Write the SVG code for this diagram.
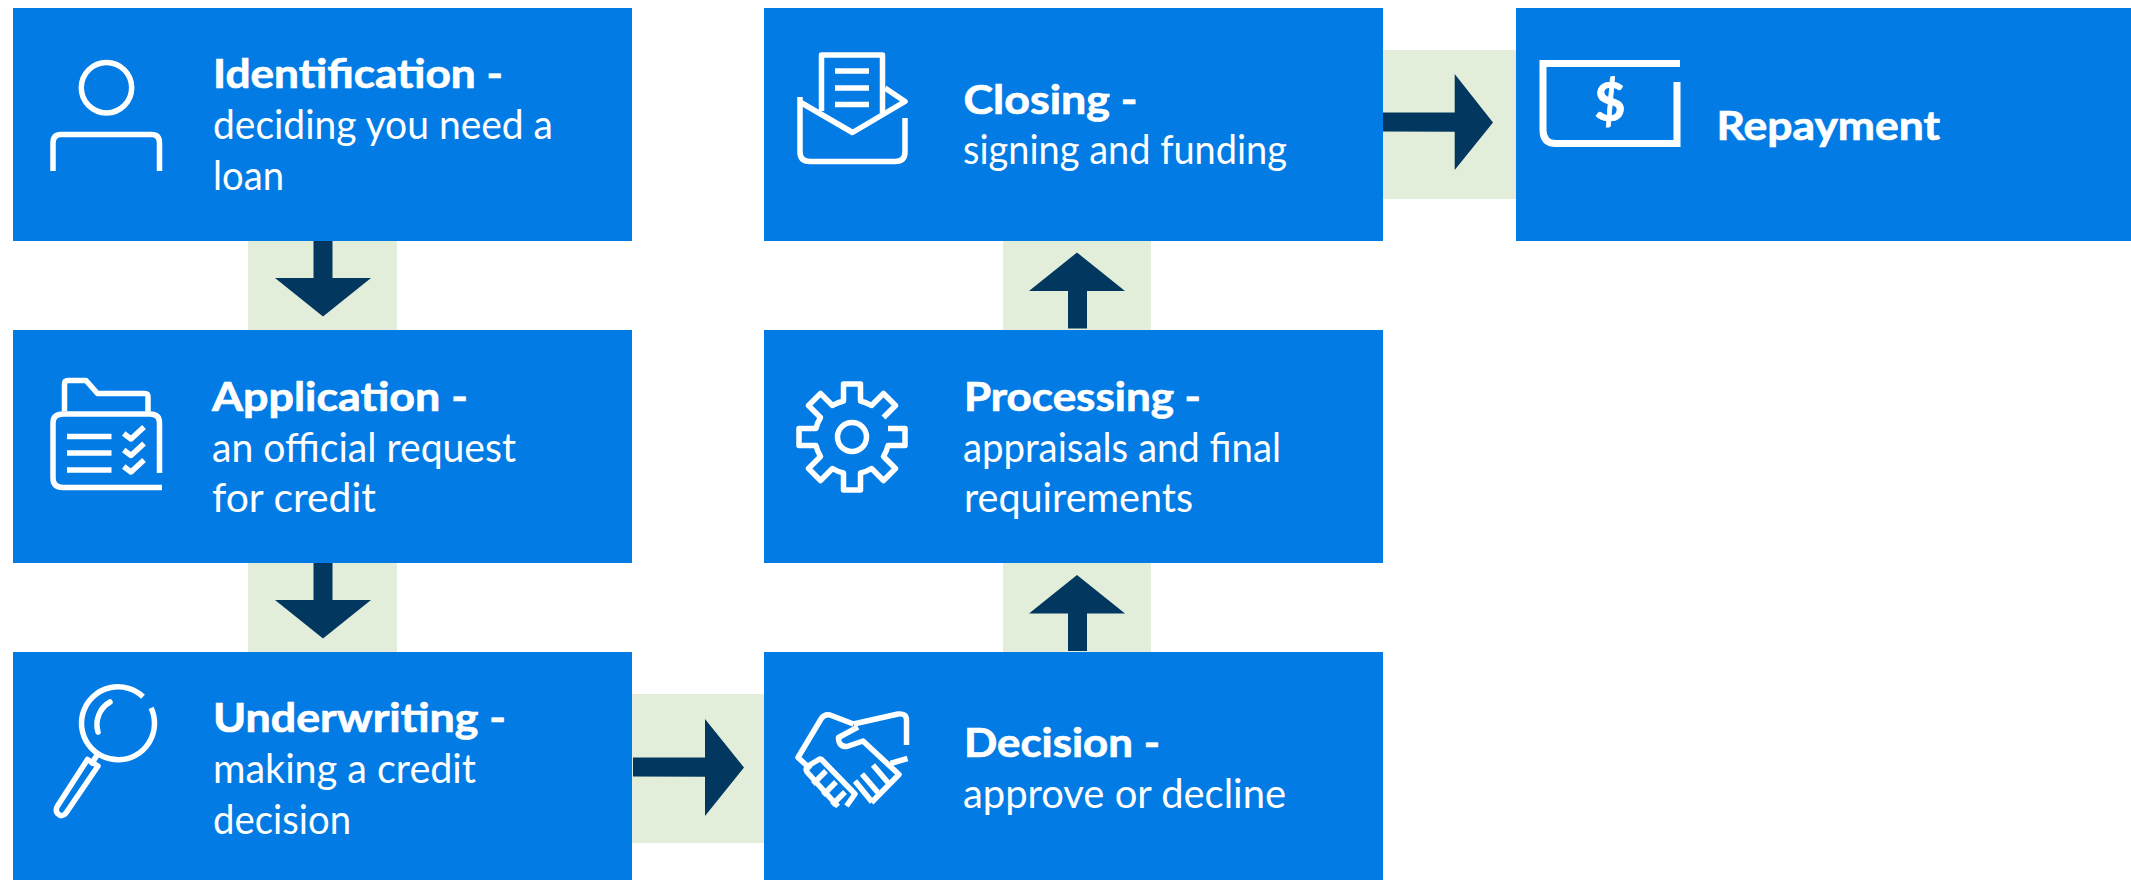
<svg xmlns="http://www.w3.org/2000/svg" width="2131" height="880" viewBox="0 0 2131 880">
<style>
.box{fill:#027ce4}
.band{fill:#e2eeda}
.arrow{fill:#02385f}
.ic{fill:none;stroke:#fff;stroke-width:5.500;stroke-linejoin:round}
.ic7{fill:none;stroke:#fff;stroke-width:7}
text{fill:#fff;font-family:Lato,"Open Sans","Liberation Sans",sans-serif;font-size:40px}
.b{font-weight:700;stroke:#fff;stroke-width:.7px}
</style>
<rect width="2131" height="880" fill="#fff"/>
<g id="connectors">
<rect class="band" x="248" y="241" width="149" height="89"/>
<rect class="band" x="248" y="563" width="149" height="89"/>
<rect class="band" x="632" y="694" width="132" height="149"/>
<rect class="band" x="1003" y="563" width="148" height="89"/>
<rect class="band" x="1003" y="241" width="148" height="89"/>
<rect class="band" x="1383" y="50" width="133" height="149"/>
<path class="arrow" d="M313.500 241H332.500V278H371L323 316.500L275 278H313.500Z"/>
<path class="arrow" d="M313.500 563H332.500V600H371L323 638.500L275 600H313.500Z"/>
<path class="arrow" d="M633 757.500L705 757.500V719L744 767.500L705 816V776.700L633 776.500Z"/>
<path class="arrow" d="M1068 651V613.500H1029L1077 575L1125 613.500H1087V651Z"/>
<path class="arrow" d="M1068 328.500V291H1029L1077 252.500L1125 291H1087V328.500Z"/>
<path class="arrow" d="M1383 112.500L1454.700 112.500V74L1493 122.500L1454.700 170V131.700L1383 131.500Z"/>
</g>
<g id="node-identification">
<rect class="box" x="13" y="8" width="619" height="233"/>
<circle class="ic" cx="106.500" cy="87.700" r="25.200"/>
<path class="ic" d="M53 171V143Q53 134.500 61 134.500H151.500Q159.500 134.500 159.500 143V171"/>
<text class="b" x="213" y="88" textLength="290" lengthAdjust="spacingAndGlyphs">Identification -</text>
<text x="213" y="138.500" textLength="340" lengthAdjust="spacingAndGlyphs">deciding you need a</text>
<text x="213" y="190" textLength="71" lengthAdjust="spacingAndGlyphs">loan</text>
</g>
<g id="node-application">
<rect class="box" x="13" y="330" width="619" height="233"/>
<path class="ic" d="M64.500 411.500V384Q64.500 380.500 68 380.500H86L97.500 393.500H145Q148 393.500 148 397V411.500"/>
<path class="ic" d="M159.500 473V423Q159.500 414 150 414H63Q53 414 53 423V478Q53 487.500 63 487.500H162"/>
<path class="ic" d="M67 436.500H111.500M67 453H111.500M67 470H111.500M123.700 433.500L131 439L144 427M123.700 450L131 455.500L144 443.500M123.700 466.500L131 472L144 460"/>
<text class="b" x="212" y="411" textLength="256" lengthAdjust="spacingAndGlyphs">Application -</text>
<text x="212" y="461.500" textLength="304" lengthAdjust="spacingAndGlyphs">an official request</text>
<text x="212" y="512" textLength="164" lengthAdjust="spacingAndGlyphs">for credit</text>
</g>
<g id="node-underwriting">
<rect class="box" x="13" y="652" width="619" height="228"/>
<path class="ic" d="M143 696.700A36.500 36.500 0 1 0 151.100 707.900"/>
<path class="ic" stroke-linecap="round" d="M110 702A26 26 0 0 0 98 732"/>
<path class="ic" stroke-linecap="round" d="M96.500 756L92 763M87.500 759.500L98 766L66 813Q62 818 57.500 813.500Q55 810 57.500 806Z"/>
<text class="b" x="213" y="731.500" textLength="293" lengthAdjust="spacingAndGlyphs">Underwriting -</text>
<text x="213" y="782.500" textLength="263" lengthAdjust="spacingAndGlyphs">making a credit</text>
<text x="213" y="834" textLength="138" lengthAdjust="spacingAndGlyphs">decision</text>
</g>
<g id="node-decision">
<rect class="box" x="764" y="652" width="619" height="228"/>
<path class="ic" d="M853.500 724L830 715Q824 714 821 719L798 757.500L810.500 769"/>
<path class="ic" d="M853.500 724L898 714Q906.500 713 906.500 720V745"/>
<path class="ic" d="M858 727L838.500 737.500Q838.500 747 847 746.500L863 741L899 774.500L871.500 802.500"/>
<path class="ic" d="M890.500 763.500L907.500 758.500"/>
<path class="ic" d="M838 806.500L807 772Q805 768 808 766L818 760Q821 758 823 761L855 794L846.500 806"/>
<path class="ic" d="M813 784L826 771M823 795L836 782M832 805L845 792"/>
<path class="ic" d="M855 781L872 802M862 774L880 795M873 765L890 785"/>
<text class="b" x="964" y="757" textLength="196" lengthAdjust="spacingAndGlyphs">Decision -</text>
<text x="963" y="808" textLength="323" lengthAdjust="spacingAndGlyphs">approve or decline</text>
</g>
<g id="node-processing">
<rect class="box" x="764" y="330" width="619" height="233"/>
<circle class="ic" cx="852" cy="437" r="14.500"/>
<path class="ic" d="M888 428.500H905V445.500H888A36 36 0 0 1 883.500 456.500L895.500 468.500L883.500 480.500L871.500 468.500A36 36 0 0 1 860.500 473V490H843.500V473A36 36 0 0 1 832.500 468.500L820.500 480.500L808.500 468.500L820.500 456.500A36 36 0 0 1 816 445.500H799V428.500H816A36 36 0 0 1 820.500 417.500L808.500 405.500L820.500 393.500L832.500 405.500A36 36 0 0 1 843.500 401V384H860.500V401A36 36 0 0 1 871.500 405.500L883.500 393.500L895.500 405.500L883.500 417.500"/>
<text class="b" x="964" y="411" textLength="237" lengthAdjust="spacingAndGlyphs">Processing -</text>
<text x="963" y="461.500" textLength="318" lengthAdjust="spacingAndGlyphs">appraisals and final</text>
<text x="964" y="512" textLength="229" lengthAdjust="spacingAndGlyphs">requirements</text>
</g>
<g id="node-closing">
<rect class="box" x="764" y="8" width="619" height="233"/>
<path class="ic" d="M821.500 111V55H882.500V113"/>
<path class="ic" d="M835 71H869M835 88H869M835 104.500H869"/>
<path class="ic" d="M800 102L852.500 132.500L905 101.500L885 88"/>
<path class="ic" d="M800 97V152Q800 161.500 810 161.500H895Q905 161.500 905 152V118"/>
<text class="b" x="963.500" y="114" textLength="174" lengthAdjust="spacingAndGlyphs">Closing -</text>
<text x="963" y="164" textLength="324" lengthAdjust="spacingAndGlyphs">signing and funding</text>
</g>
<g id="node-repayment">
<rect class="box" x="1516" y="8" width="615" height="233"/>
<path class="ic7" d="M1680 63.500H1543V130Q1543 143.500 1556 143.500H1677V82"/>
<text class="b" x="1610" y="121" text-anchor="middle" style="font-size:54px">$</text>
<text class="b" x="1716.500" y="140" textLength="223.500" lengthAdjust="spacingAndGlyphs">Repayment</text>
</g>
</svg>
